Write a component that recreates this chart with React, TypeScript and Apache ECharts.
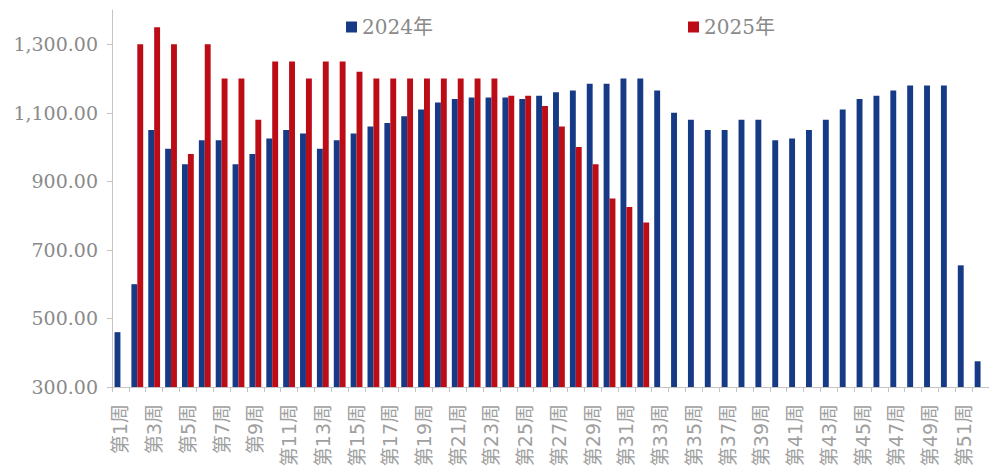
import React, { useEffect, useRef } from "react";
import * as echarts from "echarts";

const weeks: string[] = [
  "第1周", "第2周", "第3周", "第4周", "第5周", "第6周", "第7周", "第8周", "第9周", "第10周",
  "第11周", "第12周", "第13周", "第14周", "第15周", "第16周", "第17周", "第18周", "第19周", "第20周",
  "第21周", "第22周", "第23周", "第24周", "第25周", "第26周", "第27周", "第28周", "第29周", "第30周",
  "第31周", "第32周", "第33周", "第34周", "第35周", "第36周", "第37周", "第38周", "第39周", "第40周",
  "第41周", "第42周", "第43周", "第44周", "第45周", "第46周", "第47周", "第48周", "第49周", "第50周",
  "第51周", "第52周",
];

const values2024: (number | null)[] = [
  460, 600, 1050, 995, 950, 1020, 1020, 950, 980, 1025,
  1050, 1040, 995, 1020, 1040, 1060, 1070, 1090, 1110, 1130,
  1140, 1145, 1145, 1145, 1140, 1150, 1160, 1165, 1185, 1185,
  1200, 1200, 1165, 1100, 1080, 1050, 1050, 1080, 1080, 1020,
  1025, 1050, 1080, 1110, 1140, 1150, 1165, 1180, 1180, 1180,
  655, 375,
];

const values2025: (number | null)[] = [
  null, 1300, 1350, 1300, 980, 1300, 1200, 1200, 1080, 1250,
  1250, 1200, 1250, 1250, 1220, 1200, 1200, 1200, 1200, 1200,
  1200, 1200, 1200, 1150, 1150, 1120, 1060, 1000, 950, 850,
  825, 780,
];

const yTickValues: number[] = [300, 500, 700, 900, 1100, 1300];

const seriesNames: string[] = ["2024年", "2025年"];

const BLUE = "#173a86";
const RED = "#bc0c16";
const SERIF = "'DejaVu Serif', 'Noto Sans CJK SC', serif";
const XFONT = "'DejaVu Sans', 'Noto Sans CJK SC', sans-serif";

const fmt = new Intl.NumberFormat("en-US", {
  minimumFractionDigits: 2,
  maximumFractionDigits: 2,
});

export default function App() {
  const ref = useRef<HTMLDivElement>(null);

  useEffect(() => {
    if (!ref.current) return;
    const chart = echarts.init(ref.current, null, { renderer: "svg" });
    const legendText = { fontFamily: SERIF, fontSize: 20, color: "#8a8a8a" };
    chart.setOption({
      animation: false,
      backgroundColor: "#ffffff",
      legend: [
        {
          data: [seriesNames[0]],
          left: 346,
          top: 17,
          padding: 0,
          icon: "rect",
          itemWidth: 11,
          itemHeight: 11,
          textStyle: legendText,
        },
        {
          data: [seriesNames[1]],
          left: 688,
          top: 17,
          padding: 0,
          icon: "rect",
          itemWidth: 11,
          itemHeight: 11,
          textStyle: legendText,
        },
      ],
      grid: {
        left: 112,
        right: -5,
        top: 10,
        bottom: 83,
        containLabel: false,
      },
      xAxis: {
        type: "category",
        data: weeks,
        boundaryGap: true,
        axisLine: { show: true, lineStyle: { color: "#c4c4c4", width: 1 } },
        axisTick: {
          show: true,
          interval: 0,
          length: 5,
          lineStyle: { color: "#c4c4c4" },
        },
        axisLabel: {
          interval: 1,
          rotate: 90,
          margin: 17,
          fontFamily: XFONT,
          fontSize: 19,
          color: "#a0a0a0",
        },
        splitLine: { show: false },
      },
      yAxis: {
        type: "value",
        min: 300,
        max: 1400,
        interval: 100,
        axisLine: { show: true, lineStyle: { color: "#c4c4c4", width: 1 } },
        axisTick: {
          show: true,
          length: 5,
          customValues: yTickValues,
          lineStyle: { color: "#c4c4c4" },
        },
        axisLabel: {
          customValues: yTickValues,
          margin: 14,
          fontFamily: SERIF,
          fontSize: 19,
          color: "#8a8a8a",
          formatter: (v: number) => fmt.format(v),
        },
        splitLine: { show: false },
      },
      series: [
        {
          name: seriesNames[0],
          type: "bar",
          data: values2024,
          itemStyle: { color: BLUE },
          barGap: "0%",
          barCategoryGap: "30%",
        },
        {
          name: seriesNames[1],
          type: "bar",
          data: values2025,
          itemStyle: { color: RED },
          barGap: "0%",
          barCategoryGap: "30%",
        },
      ],
    });
    return () => chart.dispose();
  }, []);

  return (
    <div
      ref={ref}
      style={{ position: "fixed", left: 0, top: 0, width: 989, height: 470, background: "#fff" }}
    />
  );
}
